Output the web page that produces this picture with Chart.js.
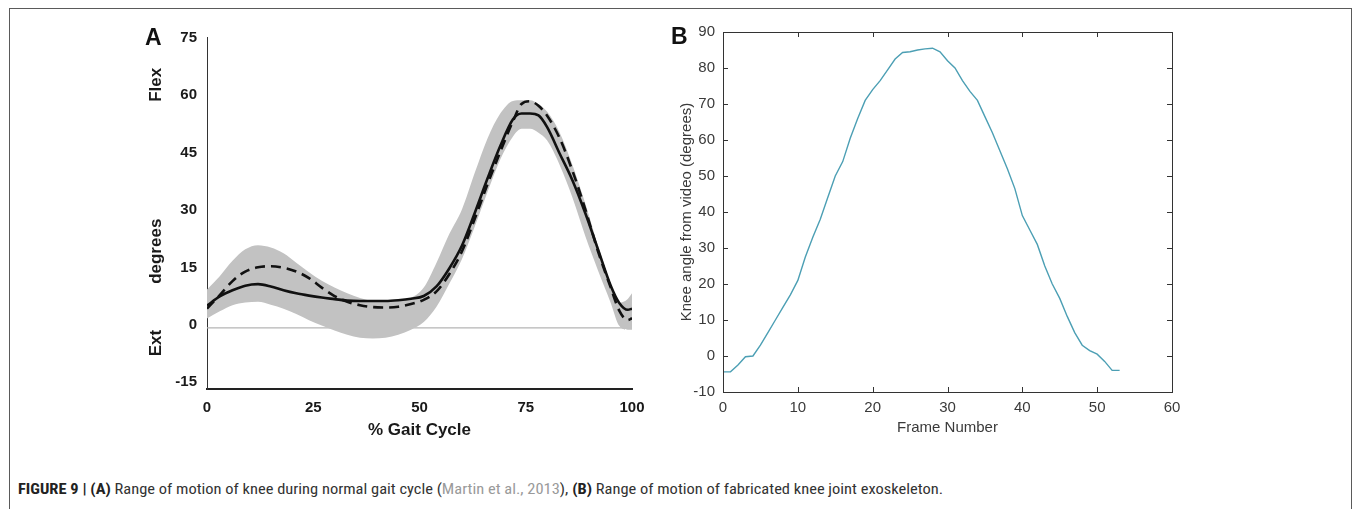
<!DOCTYPE html>
<html lang="en">
<head>
<meta charset="UTF-8">
<title>Figure 9 - Knee range of motion</title>
<script src="https://cdn.jsdelivr.net/npm/chart.js"></script>
<style>
  html, body { margin: 0; padding: 0; background: #fff; }
  body { width: 1355px; height: 509px; position: relative; overflow: hidden; font-family: "Liberation Sans", Arial, sans-serif; }
  #frame { position: absolute; left: 9px; top: 8px; width: 1343px; height: 530px; border: 1px solid #5a5a5a; box-sizing: border-box; }
  .panel { position: absolute; top: 0; }
  #panelA { left: 0; }
  #panelB { left: 660px; }
  .tag { position: absolute; font-weight: bold; font-size: 23px; line-height: 23px; color: #111; }
  #caption { position: absolute; left: 18px; top: 480px; font-family: "Roboto Condensed", "DejaVu Sans Condensed", Arial, sans-serif; font-size: 15px; color: #333; white-space: nowrap; transform-origin: 0 0; }
  #caption b { color: #222; }
  #caption .ref { color: #9a9a9a; }
</style>
</head>
<body>
<div id="frame"></div>
<div class="panel" id="panelA"><canvas id="chartA" width="680" height="450"></canvas></div>
<div class="panel" id="panelB"><canvas id="chartB" width="560" height="450"></canvas></div>
<div class="tag" style="left:145px; top:26px;">A</div>
<div class="tag" style="left:671px; top:25px;">B</div>
<div id="caption"><b>FIGURE 9 | (A)</b> Range of motion of knee during normal gait cycle (<span class="ref">Martin et al., 2013</span>), <b>(B)</b> Range of motion of fabricated knee joint exoskeleton.</div>

<script>
// --- Panel A: normal gait knee angle (% gait cycle) ---
const gaitPct = [0, 3, 6, 9, 12, 15, 18, 21, 24, 27, 30, 33, 36, 39, 42, 45, 48, 51, 54, 57, 60, 63, 66, 69, 72, 74, 76, 78, 80, 83, 86, 89, 92, 95, 97, 99, 100];
const kneeSolid = [5.8, 8.2, 9.8, 11, 11.4, 10.8, 9.8, 9, 8.4, 7.9, 7.5, 7.1, 7, 7, 7, 7.2, 7.6, 8.3, 10.8, 15.5, 21.5, 30, 39, 47.5, 54.5, 56, 56, 55.5, 52.5, 45.5, 38.5, 30, 20.5, 11, 6.5, 4.7, 5];
const kneeDashed = [5, 8.5, 12.2, 14.7, 15.8, 16.1, 15.7, 14.7, 13, 10.5, 8.3, 6.8, 5.9, 5.4, 5.3, 5.5, 6.2, 7.3, 9.5, 14, 20, 28.5, 37.5, 46, 54, 58.5, 59.2, 58, 55.5, 49.5, 41, 31, 20, 10.5, 4.5, 2, 2.5];
const bandUpper = [10, 13.5, 17.5, 20.5, 21.6, 21, 19.5, 17, 14.5, 12.3, 10.5, 9, 7.8, 7, 6.8, 7, 7.8, 10.5, 17, 24.5, 31, 40.5, 49.5, 56, 59.3, 59.5, 59.5, 58.5, 56.5, 51, 42.5, 32.5, 21.5, 11.5, 6.5, 7.5, 9];
const bandLower = [2.4, 4.3, 5.9, 6.6, 6.8, 6, 5, 3.6, 2, 0.6, -0.7, -1.8, -2.6, -2.8, -2.6, -1.8, -0.5, 1.5, 5.5, 11.5, 18, 26.5, 35.5, 44, 50, 52, 52, 51, 49, 42.5, 34, 24, 15, 6.5, 0.5, -0.5, -0.5];
const zeroLineX = [0, 100];
const zeroLineY = [0, 0];
const xTicksA = [0, 25, 50, 75, 100];
const yTicksA = [-15, 0, 15, 30, 45, 60, 75];
const sideLabelsA = [{ text: 'Flex', value: 63.5 }, { text: 'degrees', value: 20 }, { text: 'Ext', value: -4 }];

// --- Panel B: knee angle from video per frame ---
const kneeVideo = [-4.4, -4.4, -2.5, -0.2, 0, 3, 6.5, 10, 13.5, 17, 21, 27.5, 33, 38, 44, 50, 54, 60.5, 66, 71, 74, 76.5, 79.5, 82.5, 84.3, 84.5, 85, 85.3, 85.5, 84.5, 82, 80, 76.5, 73.5, 71, 66.5, 62, 57, 52, 46.5, 39, 35, 31, 25, 20, 16, 11, 6.5, 3, 1.5, 0.5, -1.5, -4, -4];
const xTicksB = [0, 10, 20, 30, 40, 50, 60];
const yTicksB = [-10, 0, 10, 20, 30, 40, 50, 60, 70, 80, 90];

const pts = (xs, ys) => xs.map((x, i) => ({ x: x, y: ys[i] }));
const fixTicks = list => scale => { scale.ticks = list.map(v => ({ value: v })); };

// rotated bold words to the left of panel A's axis
const sideLabels = {
  id: 'sideLabels',
  afterDraw(chart) {
    const { ctx, scales: { y } } = chart;
    ctx.save();
    ctx.font = 'bold 17px "Liberation Sans", Arial, sans-serif';
    ctx.fillStyle = '#1a1a1a';
    ctx.textAlign = 'center';
    ctx.textBaseline = 'middle';
    sideLabelsA.forEach(l => {
      ctx.save();
      ctx.translate(156, y.getPixelForValue(l.value));
      ctx.rotate(-Math.PI / 2);
      ctx.fillText(l.text, 0, 0);
      ctx.restore();
    });
    ctx.restore();
  }
};

// MATLAB style box with inward ticks on all four sides
const matlabBox = {
  id: 'matlabBox',
  afterDraw(chart) {
    const { ctx, chartArea: a, scales: { x, y } } = chart;
    ctx.save();
    ctx.strokeStyle = '#333';
    ctx.lineWidth = 1;
    ctx.strokeRect(Math.round(a.left) + 0.5, Math.round(a.top) + 0.5, Math.round(a.right - a.left), Math.round(a.bottom - a.top));
    ctx.beginPath();
    x.ticks.forEach(t => {
      const px = Math.round(x.getPixelForValue(t.value)) + 0.5;
      ctx.moveTo(px, a.bottom); ctx.lineTo(px, a.bottom - 5);
      ctx.moveTo(px, a.top); ctx.lineTo(px, a.top + 5);
    });
    y.ticks.forEach(t => {
      const py = Math.round(y.getPixelForValue(t.value)) + 0.5;
      ctx.moveTo(a.left, py); ctx.lineTo(a.left + 5, py);
      ctx.moveTo(a.right, py); ctx.lineTo(a.right - 5, py);
    });
    ctx.stroke();
    ctx.restore();
  }
};

Chart.defaults.font.family = '"Liberation Sans", Arial, sans-serif';
Chart.defaults.animation = false;

new Chart(document.getElementById('chartA'), {
  type: 'line',
  data: {
    datasets: [
      { label: 'band upper', data: pts(gaitPct, bandUpper), borderWidth: 0, pointRadius: 0, fill: '+1', backgroundColor: '#c2c2c2', cubicInterpolationMode: 'monotone', order: 3 },
      { label: 'band lower', data: pts(gaitPct, bandLower), borderWidth: 0, pointRadius: 0, fill: false, cubicInterpolationMode: 'monotone', order: 3 },
      { label: 'zero', data: pts(zeroLineX, zeroLineY), borderColor: '#b5b5b5', borderWidth: 1.2, pointRadius: 0, order: 4 },
      { label: 'dashed', data: pts(gaitPct, kneeDashed), borderColor: '#111', borderWidth: 2.6, borderDash: [10, 6], pointRadius: 0, cubicInterpolationMode: 'monotone', order: 1 },
      { label: 'solid', data: pts(gaitPct, kneeSolid), borderColor: '#111', borderWidth: 2.6, pointRadius: 0, cubicInterpolationMode: 'monotone', order: 0 }
    ]
  },
  options: {
    responsive: false,
    devicePixelRatio: 1,
    layout: { padding: { left: 0, top: 37, right: 48, bottom: 5 } },
    plugins: { legend: { display: false }, tooltip: { enabled: false } },
    scales: {
      x: {
        type: 'linear', min: 0, max: 100,
        afterBuildTicks: fixTicks(xTicksA),
        afterFit: s => { s.height = 56; },
        grid: { display: false, drawTicks: false, tickLength: 0 },
        border: { display: true, color: '#222', width: 2 },
        ticks: { padding: 10, color: '#1a1a1a', font: { size: 15, weight: 'bold' } },
        title: { display: true, text: '% Gait Cycle', color: '#1a1a1a', font: { size: 17, weight: 'bold' } }
      },
      y: {
        type: 'linear', min: -16, max: 76,
        afterBuildTicks: fixTicks(yTicksA),
        afterFit: s => { s.width = 207; },
        grid: { display: false, drawTicks: false, tickLength: 0 },
        border: { display: true, color: '#333', width: 1 },
        ticks: { padding: 10, labelOffset: -3, color: '#1a1a1a', font: { size: 15, weight: 'bold' } }
      }
    }
  },
  plugins: [sideLabels]
});

new Chart(document.getElementById('chartB'), {
  type: 'line',
  data: {
    datasets: [
      { label: 'Knee angle', data: kneeVideo.map((v, i) => ({ x: i, y: v })), borderColor: '#4c9fb4', borderWidth: 1.4, pointRadius: 0, tension: 0 }
    ]
  },
  options: {
    responsive: false,
    devicePixelRatio: 1,
    layout: { padding: { left: 14, top: 32, right: 48, bottom: 9 } },
    plugins: { legend: { display: false }, tooltip: { enabled: false } },
    scales: {
      x: {
        type: 'linear', min: 0, max: 60,
        afterBuildTicks: fixTicks(xTicksB),
        afterFit: s => { s.height = 49; },
        grid: { display: false, drawTicks: false, tickLength: 0 },
        border: { display: false },
        ticks: { padding: 7, color: '#3a3a3a', font: { size: 15 } },
        title: { display: true, text: 'Frame Number', color: '#3a3a3a', font: { size: 15 } }
      },
      y: {
        type: 'linear', min: -10, max: 90,
        afterBuildTicks: fixTicks(yTicksB),
        afterFit: s => { s.width = 49; },
        grid: { display: false, drawTicks: false, tickLength: 0 },
        border: { display: false },
        ticks: { padding: 8, color: '#3a3a3a', font: { size: 15 } },
        title: { display: true, text: 'Knee angle from video (degrees)', color: '#3a3a3a', font: { size: 15 } }
      }
    }
  },
  plugins: [matlabBox]
});

// stretch the caption so it spans the same width as in the figure
const cap = document.getElementById('caption');
cap.style.transform = 'scaleX(' + (925 / cap.getBoundingClientRect().width) + ')';
</script>
</body>
</html>
